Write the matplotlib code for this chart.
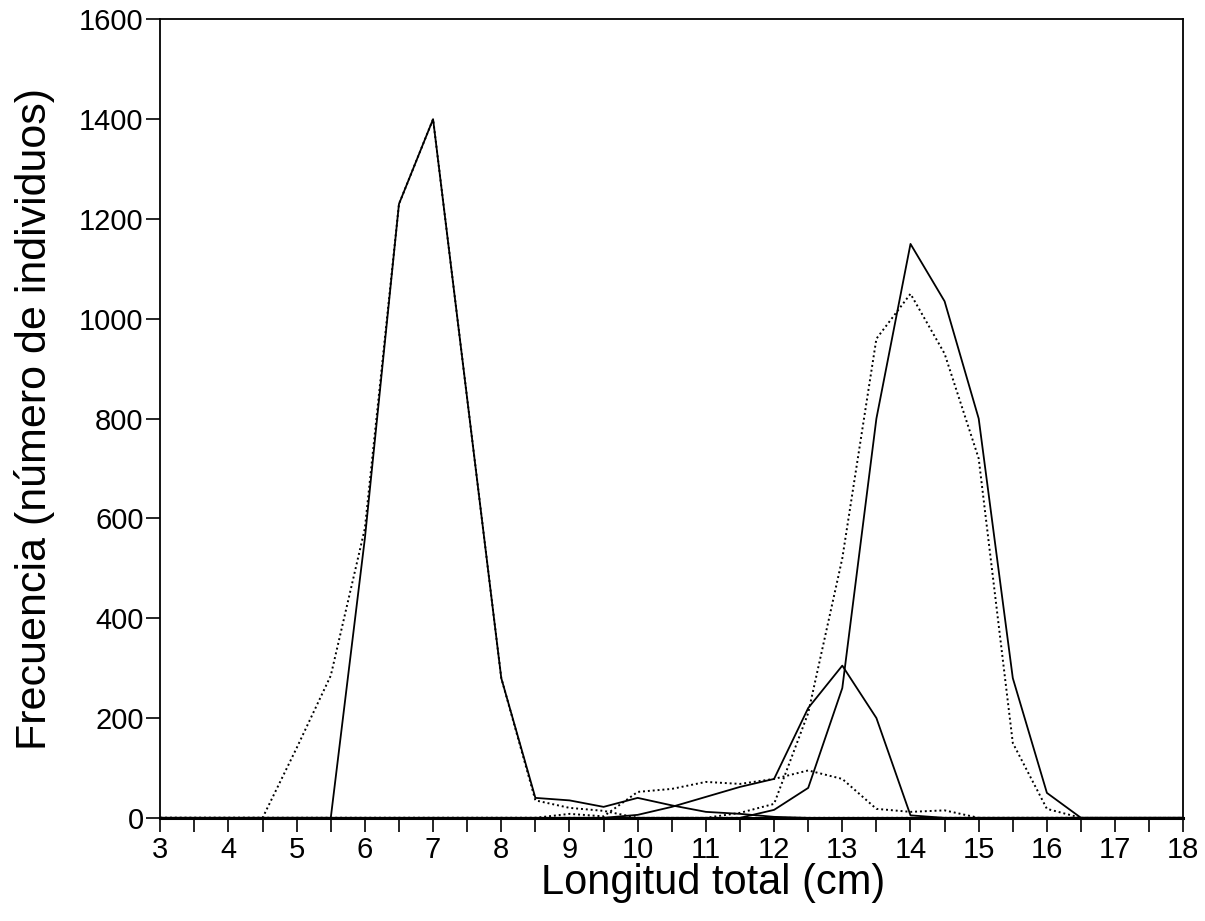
#!/usr/bin/python3
# Frecuencia de tallas: curvas de longitud total (linea continua y punteada)
import numpy as np
import matplotlib
matplotlib.use('Agg')
import matplotlib.pyplot as plt

# longitud total (cm), cada 0.5 cm de 3 a 18
longitud = [3.0, 3.5, 4.0, 4.5, 5.0, 5.5, 6.0, 6.5, 7.0, 7.5, 8.0, 8.5, 9.0, 9.5, 10.0, 10.5,
            11.0, 11.5, 12.0, 12.5, 13.0, 13.5, 14.0, 14.5, 15.0, 15.5, 16.0, 16.5, 17.0, 17.5, 18.0]

# series continuas
solidA = [0, 0, 0, 0, 0, 0, 560, 1230, 1400, 840, 280, 40, 35, 22, 40, 25,
          12, 8, 2, 0, 0, 0, 0, 0, 0, 0, 0, 0, 0, 0, 0]
solidC = [0, 0, 0, 0, 0, 0, 0, 0, 0, 0, 0, 0, 0, 0, 6, 22,
          42, 62, 78, 220, 305, 200, 5, 0, 0, 0, 0, 0, 0, 0, 0]
solidE = [0, 0, 0, 0, 0, 0, 0, 0, 0, 0, 0, 0, 0, 0, 0, 0,
          0, 0, 16, 60, 260, 800, 1150, 1035, 800, 280, 50, 0, 0, 0, 0]

# series punteadas
dotB = [0, 0, 0, 0, 140, 285, 580, 1230, 1400, 840, 280, 35, 20, 14, 0, 0,
        0, 0, 0, 0, 0, 0, 0, 0, 0, 0, 0, 0, 0, 0, 0]
dotD = [0, 0, 0, 0, 0, 0, 0, 0, 0, 0, 0, 0, 8, 3, 52, 58,
        72, 68, 78, 95, 78, 18, 12, 15, 0, 0, 0, 0, 0, 0, 0]
dotF = [0, 0, 0, 0, 0, 0, 0, 0, 0, 0, 0, 0, 0, 0, 0, 0,
        0, 10, 28, 210, 520, 960, 1050, 930, 720, 150, 18, 0, 0, 0, 0]

xTicks = [3, 4, 5, 6, 7, 8, 9, 10, 11, 12, 13, 14, 15, 16, 17, 18]
yTicks = [0, 200, 400, 600, 800, 1000, 1200, 1400, 1600]

def main():
    plt.rcParams['font.family'] = ['Liberation Sans', 'DejaVu Sans']
    fig = plt.figure(figsize=(12.05, 9.21), dpi=100)
    ax = fig.add_axes([0.133, 0.112, 0.849, 0.867])

    #--dotted first, solid on top
    dots = (0, (1, 1.5))
    for s in [dotB, dotD, dotF]:
        ax.plot(longitud, s, color='black', lw=1.4, linestyle=dots)
    for s in [solidA, solidC, solidE]:
        ax.plot(longitud, s, color='black', lw=1.3)

    #--axes
    ax.set_xlim(3, 18)
    ax.set_ylim(0, 1600)
    ax.set_xticks(xTicks)
    ax.set_xticks(np.arange(3.5, 18, 1), minor=True)
    ax.set_yticks(yTicks)
    ax.tick_params(axis='both', which='both', direction='out', length=10, width=1.2,
                   labelsize=21, color='black')
    ax.tick_params(axis='x', which='both', pad=3)
    ax.tick_params(axis='y', pad=2)
    for sp in ax.spines.values():
        sp.set_linewidth(1.3)
    ax.spines['bottom'].set_linewidth(2.2)

    ax.set_xlabel('Longitud total (cm)', fontsize=30)
    ax.xaxis.set_label_coords(0.54, -0.057)
    ax.xaxis.label.set_va('top')
    ax.set_ylabel('Frecuencia (número de individuos)', fontsize=31)
    ax.yaxis.set_label_coords(-0.143, 0.5)
    ax.yaxis.label.set_va('top')

    plt.savefig('out.png', dpi=100)

if __name__ == "__main__":
    main()
